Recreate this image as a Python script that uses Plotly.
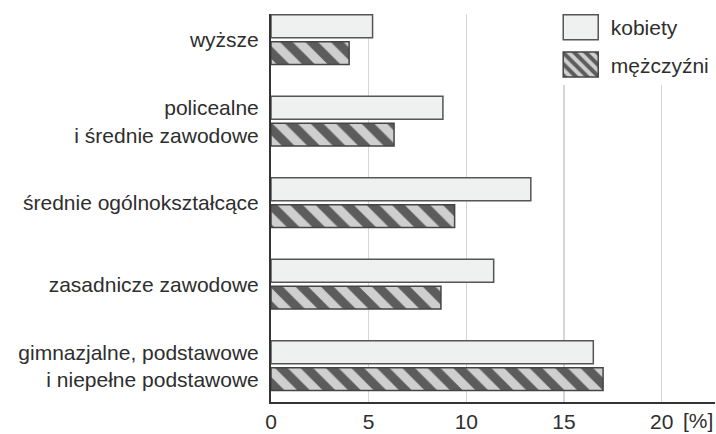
import numpy as np
import plotly.graph_objects as go

categories = [
    "wyższe",
    "policealne<br>i średnie zawodowe",
    "średnie ogólnokształcące",
    "zasadnicze zawodowe",
    "gimnazjalne, podstawowe<br>i niepełne podstawowe",
]
kobiety = [5.2, 8.8, 13.3, 11.4, 16.5]
mezczyzni = [4.0, 6.3, 9.4, 8.7, 17.0]
x_ticks = [0, 5, 10, 15, 20]
series_names = ["kobiety", "mężczyźni"]

y_pos = np.arange(len(categories))
TEXT = "#2e2e2e"
FONT = "Liberation Sans, Arial, sans-serif"
FS = 21

fig = go.Figure()
fig.add_trace(go.Bar(
    x=kobiety, y=y_pos, orientation="h", name=series_names[0],
    width=0.28, offset=-0.31, legendgroup="a",
    marker=dict(color="#eff0f0", line=dict(color="#555555", width=1.5)),
))
fig.add_trace(go.Bar(
    x=mezczyzni, y=y_pos, orientation="h", name=series_names[1],
    width=0.28, offset=0.02, legendgroup="b",
    marker=dict(color="#5c5c5c", line=dict(color="#444444", width=1.5),
                pattern=dict(shape="\\", fgcolor="#cfcfcf", bgcolor="#5c5c5c",
                             size=18, solidity=0.5, fillmode="replace")),
))

fig.update_layout(
    width=716, height=434,
    margin=dict(l=271, r=1, t=14, b=32),
    barmode="overlay",
    plot_bgcolor="white", paper_bgcolor="white",
    font=dict(family=FONT, size=FS, color=TEXT),
    showlegend=True,
    legend=dict(x=0.63, y=1.018, xanchor="left", yanchor="top",
                bgcolor="white", traceorder="grouped",
                tracegroupgap=7, itemwidth=50,
                font=dict(family=FONT, size=FS, color=TEXT)),
    xaxis=dict(range=[0, 22.73], tickvals=x_ticks, showgrid=True,
               gridcolor="#d6d6d6", gridwidth=1.5, zeroline=False,
               showline=True, linecolor="#333333", linewidth=2,
               ticks="", automargin=False, fixedrange=True),
    yaxis=dict(range=[4.44, -0.32], tickvals=y_pos, ticktext=categories,
               showgrid=False, zeroline=False, showline=True,
               linecolor="#333333", linewidth=2, ticks="",
               ticklabelstandoff=6, automargin=False, fixedrange=True),
)
fig.add_annotation(text="[%]", xref="paper", yref="paper", x=1.0, y=0,
                   xanchor="right", yanchor="top", yshift=-5, showarrow=False,
                   font=dict(family=FONT, size=FS, color=TEXT))

post = """
document.body.style.margin = '0';
document.body.style.padding = '0';
var gd = document.getElementById('{plot_id}');
function fixLegend(){
  gd.querySelectorAll('.legendpoints path').forEach(function(p){
    p.setAttribute('d','M17.5,12.5H-17.5V-12.5H17.5Z');
  });
}
fixLegend();
gd.on('plotly_afterplot', fixLegend);
"""
fig.write_html("out.html", post_script=post,
               config={"displayModeBar": False, "staticPlot": True})
